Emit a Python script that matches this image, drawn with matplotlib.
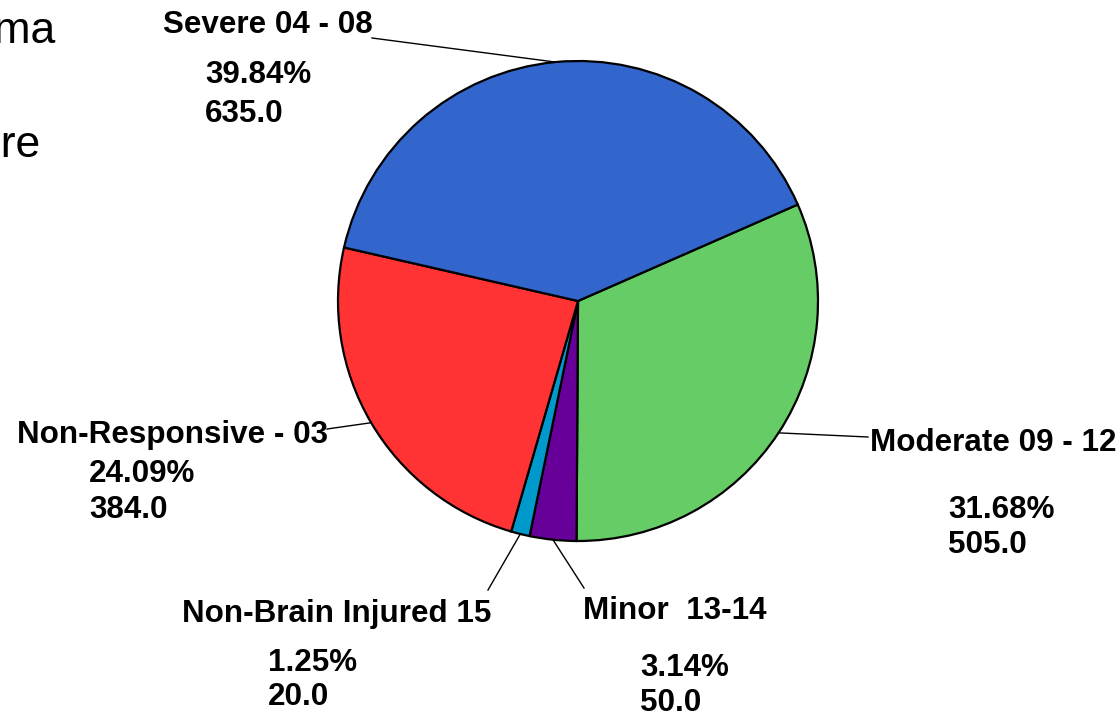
import numpy as np
import matplotlib
matplotlib.use("Agg")
import matplotlib.pyplot as plt

plt.rcParams['font.family'] = ['Liberation Sans', 'DejaVu Sans']

# GCS categories, clockwise from the green/blue boundary
labels = ['Moderate 09 - 12', 'Minor  13-14', 'Non-Brain Injured 15',
          'Non-Responsive - 03', 'Severe 04 - 08']
counts = [505.0, 50.0, 20.0, 384.0, 635.0]
colors = ['#66CC66', '#660099', '#0099CC', '#FF3333', '#3366CC']

# label layout in pixels (left x, baseline y of name / pct / count, leader end)
name_pos = [(870, 451), (583, 619), (182, 622), (17, 443), (163, 33)]
val_pos = [(948, 518, 553), (640, 676, 711), (268, 671, 705), (89, 482, 518), (205, 83, 122)]
leader_end = [(868, 437), (584, 588), (488, 590), (327, 429), (372, 38)]

W, H = 1119, 718
cx, cy, R = 578, 301, 240

fig = plt.figure(figsize=(W / 100, H / 100), dpi=100)
ax = fig.add_axes([(cx - R) / W, (H - cy - R) / H, 2 * R / W, 2 * R / H])

wedges, _ = ax.pie(counts, colors=colors, startangle=23.7, counterclock=False,
                   radius=1, wedgeprops=dict(edgecolor='black', linewidth=1.6))
ax.set_xlim(-1, 1)
ax.set_ylim(-1, 1)
ax.set_aspect('equal')
ax.axis('off')


def px(x, y):
    return (x - cx) / R, (cy - y) / R


total = sum(counts)
fs = 22.6
for i, w in enumerate(wedges):
    mid = np.deg2rad((w.theta1 + w.theta2) / 2)
    ex, ey = px(*leader_end[i])
    ax.plot([np.cos(mid), ex], [np.sin(mid), ey], color='black', lw=1.0, clip_on=False)
    nx, ny = px(*name_pos[i])
    ax.text(nx, ny, labels[i], fontsize=fs, fontweight='bold', ha='left', va='baseline', clip_on=False)
    vx, vy1, vy2 = val_pos[i]
    tx, ty = px(vx, vy1)
    ax.text(tx, ty, f'{counts[i] / total * 100:.2f}%', fontsize=fs, fontweight='bold',
            ha='left', va='baseline', clip_on=False)
    tx, ty = px(vx, vy2)
    ax.text(tx, ty, f'{counts[i]:.1f}', fontsize=fs, fontweight='bold',
            ha='left', va='baseline', clip_on=False)

# title, partly cut off at the left edge as in the original slide
fig.text(55 / W, 1 - 43 / H, 'Glasgow Coma', fontsize=32, ha='right', va='baseline')
fig.text(41 / W, 1 - 157 / H, 'Score', fontsize=32, ha='right', va='baseline')

fig.savefig('out.png', dpi=100)
